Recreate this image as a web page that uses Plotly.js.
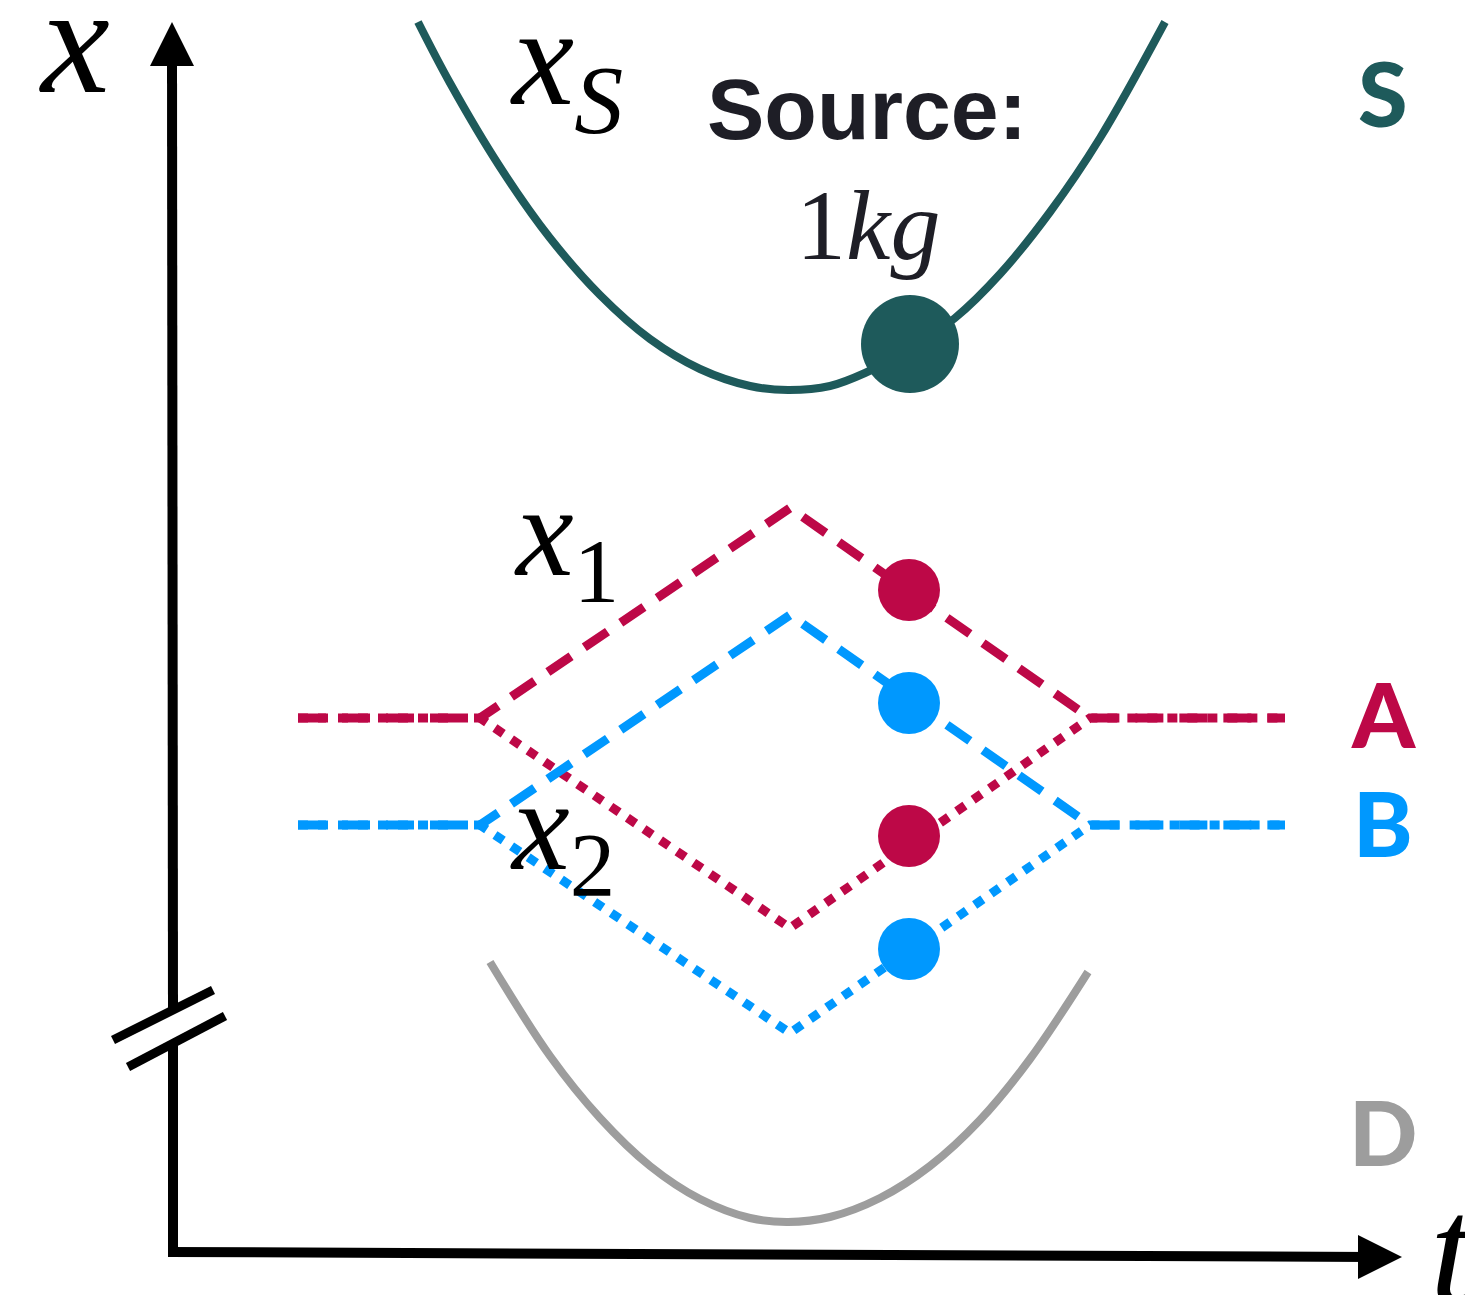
<!DOCTYPE html>
<html>
<head>
<meta charset="utf-8">
<script src="https://cdn.plot.ly/plotly-3.0.1.min.js"></script>
<style>html,body{margin:0;padding:0;background:#fff;}#chart{width:1465px;height:1295px;}</style>
</head>
<body>
<div id="chart"></div>
<script>
// ---- data (t = horizontal, x = vertical, in figure units, x grows downward) ----
const sourceT = [418, 450, 500, 550, 600, 650, 700, 750, 788, 830, 865, 910, 955, 1000, 1050, 1100, 1165];
const sourceX = [22, 83, 167, 238, 295, 339, 369, 386, 390, 386, 373, 349, 318, 274, 212, 138, 22];
const sourceMassT = [910];
const sourceMassX = [344];

const detT = [490, 550, 600, 650, 700, 750, 788, 830, 880, 930, 980, 1030, 1088];
const detX = [962, 1056, 1118, 1166, 1199, 1218, 1222, 1217, 1198, 1166, 1120, 1059, 972];

const pathT = [298, 480, 790, 1090, 1285];
const aUpperX = [718, 718, 508, 718, 718];
const aLowerX = [718, 718, 928, 718, 718];
const bUpperX = [825, 825, 615, 825, 825];
const bLowerX = [825, 825, 1033, 825, 825];

const massT = [909, 909];
const massAX = [590, 836];
const massBX = [703, 949];

const axisCorner = [173, 1254];
const axisTopTip = [172, 22];
const axisRightTip = [1402, 1257];
const axisBreak = [1012, 1041];
const breakMarks = [[113, 1040, 213, 990], [128, 1067, 225, 1016]];

const rightLabels = ['S', 'A', 'B', 'D'];
const rightLabelX = [95, 716, 825, 1134];

const teal = '#1e5a5b', crimson = '#bd0847', blue = '#0098fe', grey = '#9d9d9d', ink = '#1e1e26';
const rightColors = [teal, crimson, blue, grey];

const traces = [
  {x: sourceT, y: sourceX, mode: 'lines', line: {color: teal, width: 8, shape: 'spline'}, hoverinfo: 'skip'},
  {x: detT, y: detX, mode: 'lines', line: {color: grey, width: 8, shape: 'spline'}, hoverinfo: 'skip'},
  {x: pathT, y: aUpperX, mode: 'lines', line: {color: crimson, width: 9, dash: '28px,16px'}, hoverinfo: 'skip'},
  {x: pathT, y: aLowerX, mode: 'lines', line: {color: crimson, width: 9, dash: '10px,10px'}, hoverinfo: 'skip'},
  {x: pathT, y: bUpperX, mode: 'lines', line: {color: blue, width: 9, dash: '28px,16px'}, hoverinfo: 'skip'},
  {x: pathT, y: bLowerX, mode: 'lines', line: {color: blue, width: 9, dash: '10px,10px'}, hoverinfo: 'skip'},
  {x: massT, y: massAX, mode: 'markers', marker: {color: crimson, size: 62}, hoverinfo: 'skip'},
  {x: massT, y: massBX, mode: 'markers', marker: {color: blue, size: 62}, hoverinfo: 'skip'},
  {x: sourceMassT, y: sourceMassX, mode: 'markers', marker: {color: teal, size: 98}, hoverinfo: 'skip'},
  // arrow heads of the two axes
  {x: [axisTopTip[0]], y: [axisTopTip[1]], mode: 'markers',
   marker: {symbol: 'arrow-up', size: 44, color: '#000', line: {width: 0}}, hoverinfo: 'skip'},
  {x: [axisRightTip[0]], y: [axisRightTip[1]], mode: 'markers',
   marker: {symbol: 'arrow-right', size: 44, color: '#000', line: {width: 0}}, hoverinfo: 'skip'}
];

const shapes = [
  {type: 'line', xref: 'x', yref: 'y', x0: axisCorner[0], y0: axisBreak[0], x1: axisTopTip[0], y1: axisTopTip[1] + 30,
   line: {color: '#000', width: 10}},
  {type: 'line', xref: 'x', yref: 'y', x0: axisCorner[0], y0: axisBreak[1], x1: axisCorner[0], y1: axisCorner[1] + 3,
   line: {color: '#000', width: 10}},
  {type: 'line', xref: 'x', yref: 'y', x0: axisCorner[0] - 5, y0: axisCorner[1] - 2, x1: axisRightTip[0] - 30, y1: axisRightTip[1],
   line: {color: '#000', width: 10}}
].concat(breakMarks.map(b => ({type: 'line', xref: 'x', yref: 'y', x0: b[0], y0: b[1], x1: b[2], y1: b[3],
   line: {color: '#000', width: 9}})));

const serif = 'Liberation Serif, Times New Roman, serif';
const annotations = [
  // axis labels
  {x: 74, y: 40, xref: 'x', yref: 'y', text: '<i>x</i>', showarrow: false, xanchor: 'center', yanchor: 'middle',
   font: {family: serif, size: 155, color: '#000'}},
  {x: 1428, y: 1250, xref: 'x', yref: 'y', text: '<i>t</i>', showarrow: false, xanchor: 'left', yanchor: 'middle',
   font: {family: serif, size: 155, color: '#000'}},
  // curve labels
  {x: 508, y: 66, xref: 'x', yref: 'y', text: '<i>x<sub>S</sub></i>', showarrow: false, xanchor: 'left', yanchor: 'middle',
   font: {family: serif, size: 140, color: '#000'}},
  {x: 512, y: 540, xref: 'x', yref: 'y', text: '<i>x</i><sub>1</sub>', showarrow: false, xanchor: 'left', yanchor: 'middle',
   font: {family: serif, size: 130, color: '#000'}},
  {x: 508, y: 834, xref: 'x', yref: 'y', text: '<i>x</i><sub>2</sub>', showarrow: false, xanchor: 'left', yanchor: 'middle',
   font: {family: serif, size: 130, color: '#000'}},
  // source text
  {x: 867, y: 109, xref: 'x', yref: 'y', text: '<b>Source:</b>', showarrow: false, xanchor: 'center', yanchor: 'middle',
   font: {family: 'Liberation Sans, Arial, sans-serif', size: 86, color: ink}},
  {x: 868, y: 225, xref: 'x', yref: 'y', text: '1<i>kg</i>', showarrow: false, xanchor: 'center', yanchor: 'middle',
   font: {family: serif, size: 100, color: ink}}
].concat(rightLabels.map((s, i) => ({
   x: 1383, y: rightLabelX[i] - 3, xref: 'x', yref: 'y', text: s, showarrow: false, xanchor: 'center', yanchor: 'middle',
   font: {family: 'Lato, Open Sans, sans-serif', size: 90, weight: 900, color: rightColors[i]}})));

const layout = {
  width: 1465, height: 1295,
  margin: {l: 0, r: 0, t: 0, b: 0, pad: 0},
  paper_bgcolor: '#fff', plot_bgcolor: '#fff',
  showlegend: false,
  xaxis: {range: [0, 1465], visible: false, fixedrange: true},
  yaxis: {range: [1295, 0], visible: false, fixedrange: true},
  shapes: shapes,
  annotations: annotations
};

Plotly.newPlot('chart', traces, layout, {staticPlot: true, displayModeBar: false});
</script>
</body>
</html>
